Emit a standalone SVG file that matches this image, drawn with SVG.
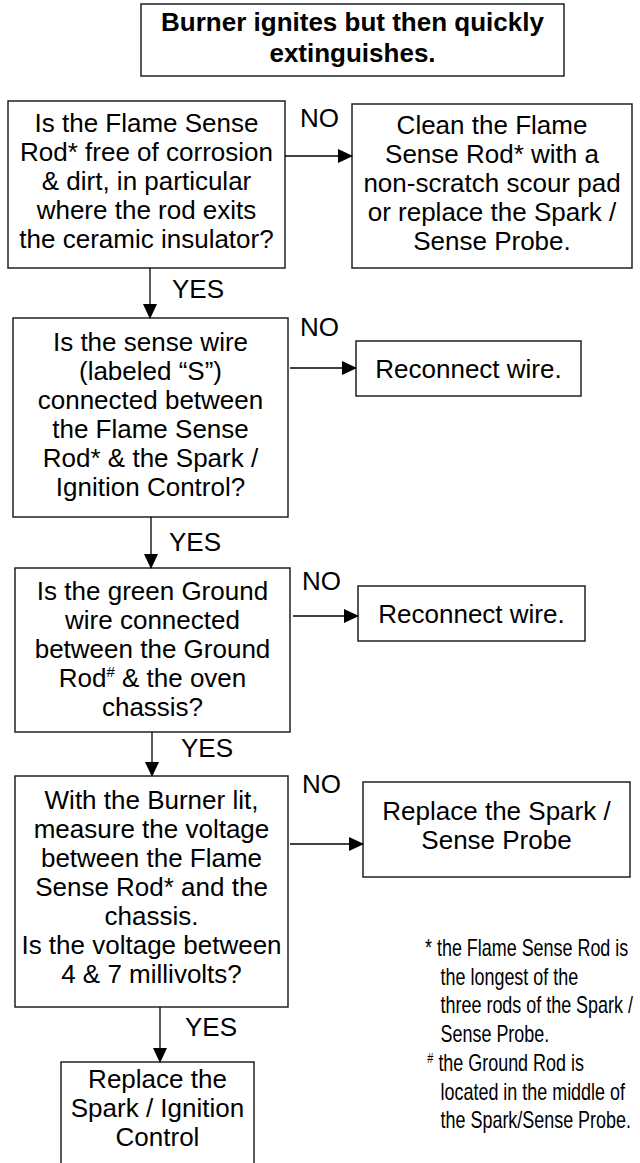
<svg xmlns="http://www.w3.org/2000/svg" width="640" height="1163" viewBox="0 0 640 1163">
<style>
rect.box{fill:#fff;stroke:#222;stroke-width:1.5}
text{font-family:"Liberation Sans",Arial,sans-serif;font-size:26px;fill:#000}
text.c{text-anchor:middle}
text.title{font-weight:bold;font-size:26px;text-anchor:middle}
text.fn{font-size:23px}
.conn line{stroke:#000;stroke-width:1.3}
</style>
<defs>
<marker id="ah" markerWidth="15" markerHeight="14" refX="14" refY="7" orient="auto" markerUnits="userSpaceOnUse">
<path d="M0,0 L15,7 L0,14 Z" fill="#000"/>
</marker>
</defs>
<rect width="640" height="1163" fill="#fff"/>

<g id="title">
<rect class="box" x="141" y="4" width="423" height="72"/>
<text class="title" x="352.5" y="31">Burner ignites but then quickly</text>
<text class="title" x="352.5" y="62">extinguishes.</text>
</g>

<g id="q1">
<rect class="box" x="8" y="101" width="277" height="167"/>
<text class="c" x="146.5" y="132">Is the Flame Sense</text>
<text class="c" x="146.5" y="161">Rod* free of corrosion</text>
<text class="c" x="146.5" y="190">&amp; dirt, in particular</text>
<text class="c" x="146.5" y="219">where the rod exits</text>
<text class="c" x="146.5" y="248">the ceramic insulator?</text>
</g>

<g id="a1">
<rect class="box" x="352" y="104" width="280" height="164"/>
<text class="c" x="492" y="134">Clean the Flame</text>
<text class="c" x="492" y="163">Sense Rod* with a</text>
<text class="c" x="492" y="192">non-scratch scour pad</text>
<text class="c" x="492" y="221">or replace the Spark /</text>
<text class="c" x="492" y="250">Sense Probe.</text>
</g>

<g id="q2">
<rect class="box" x="13" y="318" width="275" height="199"/>
<text class="c" x="150.5" y="351">Is the sense wire</text>
<text class="c" x="150.5" y="380">(labeled “S”)</text>
<text class="c" x="150.5" y="409">connected between</text>
<text class="c" x="150.5" y="438">the Flame Sense</text>
<text class="c" x="150.5" y="467">Rod* &amp; the Spark /</text>
<text class="c" x="150.5" y="496">Ignition Control?</text>
</g>

<g id="a2">
<rect class="box" x="356" y="341" width="225" height="55"/>
<text class="c" x="468.5" y="378">Reconnect wire.</text>
</g>

<g id="q3">
<rect class="box" x="15" y="568" width="275" height="164"/>
<text class="c" x="152.5" y="600">Is the green Ground</text>
<text class="c" x="152.5" y="629">wire connected</text>
<text class="c" x="152.5" y="658">between the Ground</text>
<text class="c" x="152.5" y="687">Rod<tspan font-size="15" dy="-10">#</tspan><tspan dy="10"> &amp; the oven</tspan></text>
<text class="c" x="152.5" y="716">chassis?</text>
</g>

<g id="a3">
<rect class="box" x="358" y="586" width="227" height="55"/>
<text class="c" x="471.5" y="623">Reconnect wire.</text>
</g>

<g id="q4">
<rect class="box" x="15" y="776" width="273" height="231"/>
<text class="c" x="151.5" y="809">With the Burner lit,</text>
<text class="c" x="151.5" y="838">measure the voltage</text>
<text class="c" x="151.5" y="867">between the Flame</text>
<text class="c" x="151.5" y="896">Sense Rod* and the</text>
<text class="c" x="151.5" y="925">chassis.</text>
<text class="c" x="151.5" y="954">Is the voltage between</text>
<text class="c" x="151.5" y="983">4 &amp; 7 millivolts?</text>
</g>

<g id="a4">
<rect class="box" x="363" y="782" width="267" height="95"/>
<text class="c" x="496.5" y="820">Replace the Spark /</text>
<text class="c" x="496.5" y="849">Sense Probe</text>
</g>

<g id="a5">
<rect class="box" x="61" y="1062" width="193" height="120"/>
<text class="c" x="157.5" y="1088">Replace the</text>
<text class="c" x="157.5" y="1117">Spark / Ignition</text>
<text class="c" x="157.5" y="1146">Control</text>
</g>

<g id="notes" transform="translate(425 0) scale(0.78 1)">
<text class="fn" x="0" y="956">* the Flame Sense Rod is</text>
<text class="fn" x="20" y="985">the longest of the</text>
<text class="fn" x="20" y="1013">three rods of the Spark /</text>
<text class="fn" x="20" y="1042">Sense Probe.</text>
<text class="fn" x="3" y="1071"><tspan font-size="14" dy="-8">#</tspan><tspan dy="8"> the Ground Rod is</tspan></text>
<text class="fn" x="20" y="1100">located in the middle of</text>
<text class="fn" x="20" y="1128">the Spark/Sense Probe.</text>
</g>

<g id="connectors" class="conn">
<line x1="285" y1="156" x2="352" y2="156" marker-end="url(#ah)"/>
<line x1="150" y1="268" x2="150" y2="318" marker-end="url(#ah)"/>
<line x1="290" y1="368" x2="356" y2="368" marker-end="url(#ah)"/>
<line x1="151" y1="517" x2="151" y2="568" marker-end="url(#ah)"/>
<line x1="293" y1="616" x2="358" y2="616" marker-end="url(#ah)"/>
<line x1="152" y1="732" x2="152" y2="776" marker-end="url(#ah)"/>
<line x1="290" y1="844" x2="363" y2="844" marker-end="url(#ah)"/>
<line x1="160" y1="1007" x2="160" y2="1062" marker-end="url(#ah)"/>
</g>

<g id="labels">
<text x="300" y="127">NO</text>
<text x="172" y="298">YES</text>
<text x="300" y="336">NO</text>
<text x="169" y="551">YES</text>
<text x="302" y="590">NO</text>
<text x="181" y="757">YES</text>
<text x="302" y="793">NO</text>
<text x="185" y="1036">YES</text>
</g>
</svg>
